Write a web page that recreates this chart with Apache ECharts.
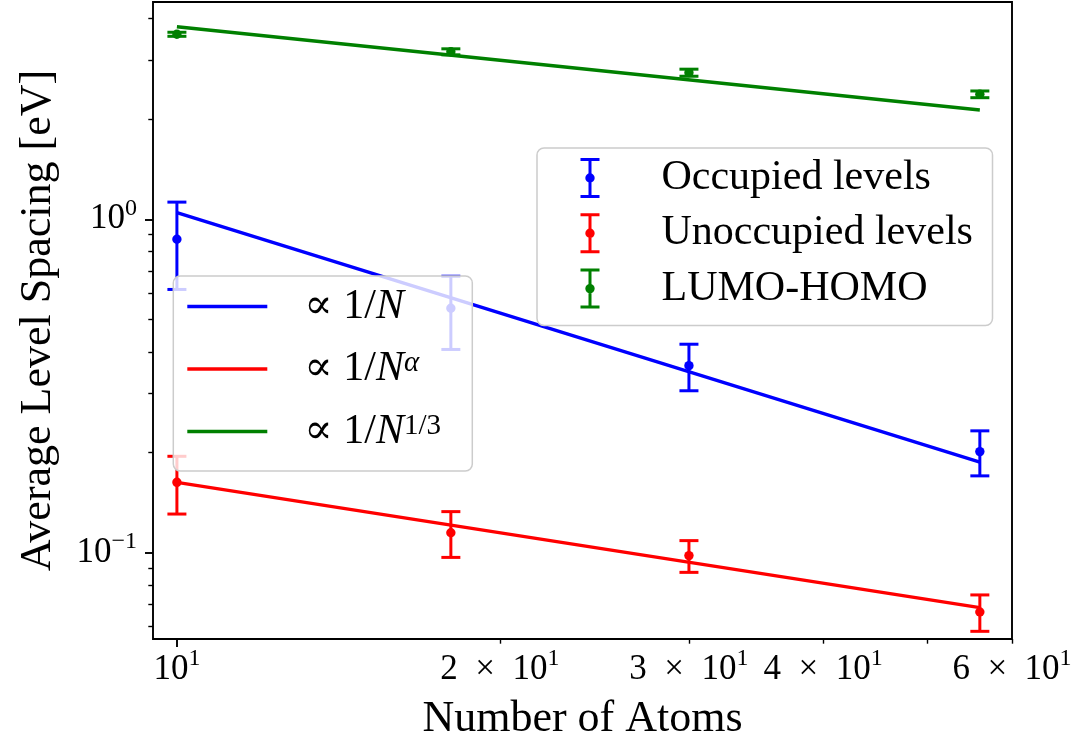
<!DOCTYPE html>
<html>
<head>
<meta charset="utf-8">
<title>Average Level Spacing vs Number of Atoms</title>
<script src="https://cdn.jsdelivr.net/npm/echarts@6/dist/echarts.min.js"></script>
<style>
  html, body { margin: 0; padding: 0; background: #ffffff; }
  #chart { width: 1083px; height: 735px; }
</style>
</head>
<body>
<div id="chart"></div>
<script>
// Cluster sizes (number of atoms)
const nAtoms = [10, 18, 30, 56];

// Mean level spacing [eV] and symmetric standard deviations
const occupiedMean = [0.871, 0.541, 0.364, 0.201];
const occupiedErr = [0.255, 0.134, 0.058, 0.031];
const unoccupiedMean = [0.1626, 0.1148, 0.0980, 0.0664];
const unoccupiedErr = [0.032, 0.018, 0.0107, 0.0083];
const gapMean = [3.589, 3.180, 2.753, 2.371];
const gapErr = [0.050, 0.066, 0.067, 0.055];

// Power-law fits, given at the ends of the N range
const fitN = [10, 56];
const fitInvN = [1.047, 0.187];
const fitInvNAlpha = [0.1626, 0.0684];
const fitInvNThird = [3.78, 2.127];

// Tick positions and labelled values
const xMajorTicks = [10];
const xMinorTicks = [20, 30, 40, 50, 60];
const xTickLabels = [10, 20, 30, 40, 60];
const yMajorTicks = [0.1, 1];
const yMinorTicks = [0.06, 0.07, 0.08, 0.09, 0.2, 0.3, 0.4, 0.5, 0.6, 0.7, 0.8, 0.9, 2, 3, 4];

const SERIF = "'Liberation Serif', 'DejaVu Serif', serif";
const BLUE = '#0000ff', RED = '#ff0000', GREEN = '#008000';

const fitNames = {
  invN: '\u221d 1/N',
  invNAlpha: '\u221d 1/N^alpha',
  invNThird: '\u221d 1/N^(1/3)'
};
const fitRich = {};
fitRich[fitNames.invN] = '\u221d 1/{it|N}';
fitRich[fitNames.invNAlpha] = '\u221d 1/{it|N}{supi|\u03b1}';
fitRich[fitNames.invNThird] = '\u221d 1/{it|N}{sup|1/3}';

// error-bar glyph for the legend: caps, stem and dot
const errIcon = 'path://M0,0H19V3H0Z M8,3H11V37H8Z M0,37H19V40H0Z M9.5,15.3A4.7,4.7 0 1 1 9.49,15.3Z';

function pairs(xs, ys) { return xs.map((x, i) => [x, ys[i]]); }

function errorSeries(name, color, means, errs) {
  return {
    name: name,
    type: 'custom',
    xAxisIndex: 0,
    yAxisIndex: 0,
    z: 2,
    itemStyle: { color: color },
    data: nAtoms.map((n, i) => [n, means[i], means[i] - errs[i], means[i] + errs[i]]),
    encode: { x: 0, y: [1, 2, 3] },
    renderItem: function (params, api) {
      const x = api.value(0);
      const mid = api.coord([x, api.value(1)]);
      const lo = api.coord([x, api.value(2)]);
      const hi = api.coord([x, api.value(3)]);
      const cap = 9.5;
      const st = { stroke: color, lineWidth: 3 };
      return {
        type: 'group',
        children: [
          { type: 'line', shape: { x1: hi[0], y1: hi[1], x2: lo[0], y2: lo[1] }, style: st },
          { type: 'line', shape: { x1: hi[0] - cap, y1: hi[1], x2: hi[0] + cap, y2: hi[1] }, style: st },
          { type: 'line', shape: { x1: lo[0] - cap, y1: lo[1], x2: lo[0] + cap, y2: lo[1] }, style: st },
          { type: 'circle', shape: { cx: mid[0], cy: mid[1], r: 4.7 }, style: { fill: color } }
        ]
      };
    }
  };
}

function fitSeries(name, color, values) {
  return {
    name: name,
    type: 'line',
    xAxisIndex: 0,
    yAxisIndex: 0,
    z: 3,
    color: color,
    showSymbol: false,
    symbol: 'none',
    lineStyle: { color: color, width: 3.4 },
    data: pairs(fitN, values)
  };
}

const tickRich = {
  sup: { fontSize: 24, lineHeight: 22, verticalAlign: 'top', fontFamily: SERIF, color: '#000' }
};

function xLabel(v) {
  const m = Math.round(v / 10);
  return (m === 1 ? '' : m + '\u2002\u00d7\u2002') + '10{sup|1}';
}
function yLabel(v) {
  const e = Math.round(Math.log10(v));
  return '10{sup|' + (e < 0 ? '\u2212' + (-e) : e) + '}';
}

const axisCommon = {
  type: 'log',
  logBase: 10,
  axisLine: { show: false },
  splitLine: { show: false },
  minorTick: { show: false }
};

const chart = echarts.init(document.getElementById('chart'), null, { renderer: 'canvas' });

chart.setOption({
  animation: false,
  backgroundColor: '#ffffff',
  grid: {
    left: 153, right: 71, top: 2, bottom: 96,
    containLabel: false, outerBoundsMode: 'none',
    show: true, borderColor: '#000', borderWidth: 1.9, backgroundColor: 'transparent'
  },
  xAxis: [
    Object.assign({}, axisCommon, {
      min: 9.5, max: 60, position: 'bottom',
      name: 'Number of Atoms', nameLocation: 'middle', nameGap: 47,
      nameTextStyle: { fontFamily: SERIF, fontSize: 44, lineHeight: 44, color: '#000' },
      axisTick: { show: true, customValues: xMajorTicks, length: 8, lineStyle: { color: '#000', width: 1.9 } },
      axisLabel: {
        show: true, customValues: xTickLabels, margin: 8, formatter: xLabel,
        fontFamily: SERIF, fontSize: 35, lineHeight: 46, color: '#000', rich: tickRich
      }
    }),
    Object.assign({}, axisCommon, {
      min: 9.5, max: 60, position: 'bottom',
      axisTick: { show: true, customValues: xMinorTicks, length: 4.7, lineStyle: { color: '#000', width: 1.4 } },
      axisLabel: { show: false }
    })
  ],
  yAxis: [
    Object.assign({}, axisCommon, {
      min: 0.0551, max: 4.485, position: 'left',
      name: 'Average Level Spacing [eV]', nameLocation: 'middle', nameGap: 93, nameRotate: 90,
      nameTextStyle: { fontFamily: SERIF, fontSize: 44, lineHeight: 44, color: '#000' },
      axisTick: { show: true, customValues: yMajorTicks, length: 8, lineStyle: { color: '#000', width: 1.9 } },
      axisLabel: {
        show: true, customValues: yMajorTicks, margin: 16, formatter: yLabel,
        fontFamily: SERIF, fontSize: 35, lineHeight: 46, color: '#000', rich: tickRich
      }
    }),
    Object.assign({}, axisCommon, {
      min: 0.0551, max: 4.485, position: 'left',
      axisTick: { show: true, customValues: yMinorTicks, length: 4.7, lineStyle: { color: '#000', width: 1.4 } },
      axisLabel: { show: false }
    })
  ],
  legend: [
    {
      orient: 'vertical',
      left: 537, top: 148,
      padding: [9, 0, 16, 43.5],
      itemWidth: 19, itemHeight: 40, itemGap: 13.3,
      selectedMode: false,
      backgroundColor: 'rgba(255,255,255,0.8)',
      borderColor: '#cccccc', borderWidth: 1.5, borderRadius: 7,
      z: 10,
      data: [
        { name: 'Occupied levels', icon: errIcon },
        { name: 'Unoccupied levels', icon: errIcon },
        { name: 'LUMO-HOMO', icon: errIcon }
      ],
      textStyle: {
        fontFamily: SERIF, fontSize: 42, lineHeight: 40, color: '#000',
        padding: [0, 0, 0, 57], width: 331
      }
    },
    {
      orient: 'vertical',
      left: 173.3, top: 276,
      padding: [9.5, 0, 18.5, 14],
      itemWidth: 80, itemHeight: 3.4, itemGap: 20.5,
      selectedMode: false,
      icon: 'rect',
      backgroundColor: 'rgba(255,255,255,0.8)',
      borderColor: '#cccccc', borderWidth: 1.5, borderRadius: 7,
      z: 10,
      data: [fitNames.invN, fitNames.invNAlpha, fitNames.invNThird],
      formatter: function (name) { return fitRich[name]; },
      textStyle: {
        fontFamily: SERIF, fontSize: 42, lineHeight: 40, color: '#000',
        padding: [0, 0, 0, 32], width: 168,
        rich: {
          it: { fontStyle: 'italic', fontFamily: SERIF, fontSize: 42, lineHeight: 40, color: '#000' },
          sup: { fontFamily: SERIF, fontSize: 29, lineHeight: 26, verticalAlign: 'top', color: '#000' },
          supi: { fontFamily: SERIF, fontStyle: 'italic', fontSize: 29, lineHeight: 26, verticalAlign: 'top', color: '#000' }
        }
      }
    }
  ],
  series: [
    errorSeries('Occupied levels', BLUE, occupiedMean, occupiedErr),
    errorSeries('Unoccupied levels', RED, unoccupiedMean, unoccupiedErr),
    errorSeries('LUMO-HOMO', GREEN, gapMean, gapErr),
    fitSeries(fitNames.invN, BLUE, fitInvN),
    fitSeries(fitNames.invNAlpha, RED, fitInvNAlpha),
    fitSeries(fitNames.invNThird, GREEN, fitInvNThird)
  ]
});
</script>
</body>
</html>
